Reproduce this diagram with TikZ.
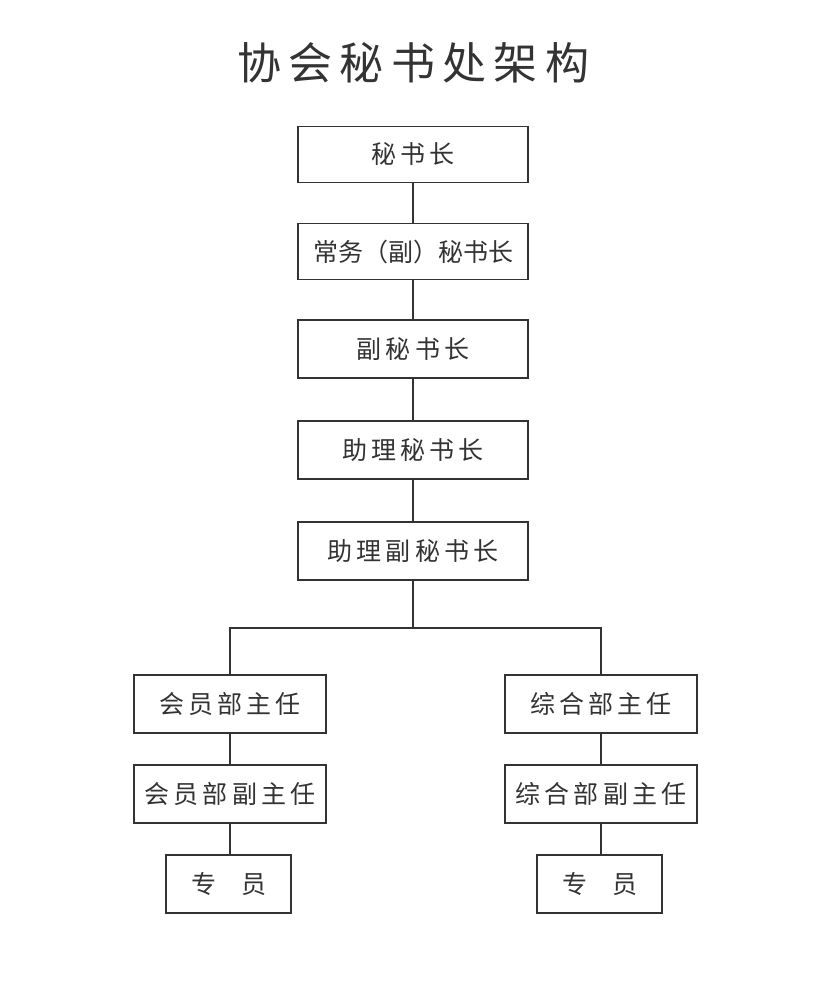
\documentclass[tikz,border=0pt]{standalone}
\usepackage{fontspec}
\newfontfamily\cjk{Noto Sans CJK SC}
\usetikzlibrary{positioning}
\definecolor{ink}{HTML}{333333}
\tikzset{
  post/.style={draw=ink, line width=1.3pt, text=ink, font=\cjk\fontsize{25}{25}\selectfont,
    inner sep=0pt, minimum width=230pt, minimum height=56pt},
  dept/.style={post, minimum width=192pt, minimum height=58pt},
  staff/.style={post, minimum width=125pt, minimum height=58pt},
  link/.style={draw=ink, line width=1.3pt}
}
\begin{document}
\begin{tikzpicture}[x=1pt,y=-1pt]
    % Fondo y margenes
    \useasboundingbox[fill=white] (0,0) rectangle (827,1000);

    % Titulo
    \node[text=ink, font=\cjk\fontsize{44}{44}\selectfont] (title) at (413,63) {协\,会\,秘\,书\,处\,架\,构};

    % Cadena central
    \node[post] (sg) at (413,154.5) {秘\,书\,长};
    \node[post] (esg) at (413,251.5) {常务（副）秘书长};
    \node[post, minimum height=58pt] (dsg) at (413,349) {副\,秘\,书\,长};
    \node[post, minimum height=58pt] (asg) at (413,450) {助\,理\,秘\,书\,长};
    \node[post, minimum height=58pt] (adsg) at (413,551) {助\,理\,副\,秘\,书\,长};

    % Departamentos
    \node[dept] (mem) at (230,704) {会\,员\,部\,主\,任};
    \node[dept] (memd) at (230,794) {会\,员\,部\,副\,主\,任};
    \node[staff] (mems) at (228.5,884) {专\quad 员};
    \node[dept] (gen) at (601,704) {综\,合\,部\,主\,任};
    \node[dept] (gend) at (601,794) {综\,合\,部\,副\,主\,任};
    \node[staff] (gens) at (599.5,884) {专\quad 员};

    % Conexiones
    \draw[link] (sg) -- (esg);
    \draw[link] (esg) -- (dsg);
    \draw[link] (dsg) -- (asg);
    \draw[link] (asg) -- (adsg);
    \coordinate (fork) at (413,628);
    \draw[link] (adsg) -- (fork);
    \draw[link] (mem.north) |- (fork) -| (gen.north);
    \draw[link] (mem) -- (memd);
    \draw[link] (memd.south) -- (memd.south |- mems.north);
    \draw[link] (gen) -- (gend);
    \draw[link] (gend.south) -- (gend.south |- gens.north);
\end{tikzpicture}
\end{document}
